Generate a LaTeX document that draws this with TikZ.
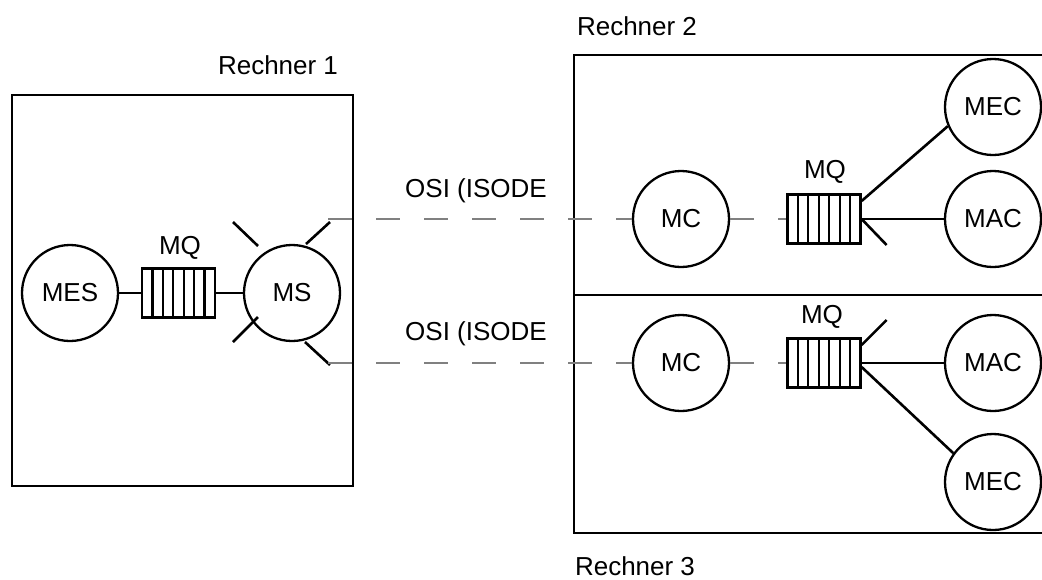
\documentclass[tikz,border=0pt]{standalone}
\usepackage{fontspec}
\setmainfont{Liberation Sans}
\usetikzlibrary{calc,positioning}

\tikzset{
  proc/.style={circle, draw, line width=1.15pt, minimum size=48pt, inner sep=0pt, fill=white},
  queue/.style={rectangle, draw, line width=1.1pt, minimum width=36.5pt, minimum height=24.5pt, inner sep=0pt,
    path picture={\foreach \k in {1,...,6}{
      \draw[line width=1.1pt] ($(path picture bounding box.south west)!\k/7!(path picture bounding box.south east)$)
        -- ($(path picture bounding box.north west)!\k/7!(path picture bounding box.north east)$);}}},
  osi/.style={draw=gray, line width=1.1pt, dash pattern=on 12pt off 12pt},
  link/.style={line width=1.3pt},
  host/.style={line width=1.4pt},
}

\begin{document}
\begin{tikzpicture}[x=0.5pt, y=-0.5pt, font=\fontsize{13}{15}\selectfont]
  \useasboundingbox (0,0) rectangle (1042,579);
  \clip (0,0) rectangle (1042,579);

  % Rechner boxes
  \draw[host] (12,95) rectangle (353,486);
  \draw[host] (574,55) rectangle (1070,533);
  \draw[host] (574,295) -- (1070,295);
  \node (lab1) at (278,65) {Rechner 1};
  \node (lab2) at (637,26) {Rechner 2};
  \node (lab3) at (635,566) {Rechner 3};

  % Rechner 1: MES -- MQ -- MS
  \node[proc] (mes) at (70,293) {MES};
  \node[queue] (q1) at (178.5,293) {};
  \node (q1lab) at (180,248) {MQ};
  \node[proc] (ms) at (292,293) {MS};
  \draw[link] (mes) -- (q1);
  \draw[link] (q1) -- (ms);

  % spikes of MS
  \draw[link] (233,222) -- (258,246);
  \draw[link] (306,244) -- (330,222);
  \draw[link] (233,342) -- (258,317);
  \draw[link] (305,342) -- (330,365);
  \coordinate (s2) at (328,219);
  \coordinate (s3) at (328,363);

  % Rechner 2
  \node[proc] (mc2) at (681,219) {MC};
  \node[queue] (q2) at (824,219) {};
  \node (q2lab) at (825,172) {MQ};
  \node[proc] (mec2) at (993,107) {MEC};
  \node[proc] (mac2) at (993,219) {MAC};
  \draw[link] ($(q2.east)+(0,-18)$) -- (mec2.203);
  \draw[link] (q2.east) -- (mac2);
  \draw[link] (q2.east) -- ++(25,26);

  % Rechner 3
  \node[proc] (mc3) at (681,363) {MC};
  \node[queue] (q3) at (824,363) {};
  \node (q3lab) at (822,317) {MQ};
  \node[proc] (mac3) at (993,363) {MAC};
  \node[proc] (mec3) at (993,482) {MEC};
  \draw[link] (q3.east) -- (mac3);
  \draw[link] ($(q3.east)+(0,4)$) -- (mec3.144);
  \draw[link] ($(q3.east)+(0,-18)$) -- ++(25,-25);

  % OSI links
  \draw[osi] (s2) -- (mc2);
  \draw[osi] (mc2) -- (q2);
  \draw[osi] (s3) -- (mc3);
  \draw[osi] (mc3) -- (q3);
  \node (osi2) at (476,191) {OSI (ISODE};
  \node (osi3) at (476,334) {OSI (ISODE};
\end{tikzpicture}
\end{document}
